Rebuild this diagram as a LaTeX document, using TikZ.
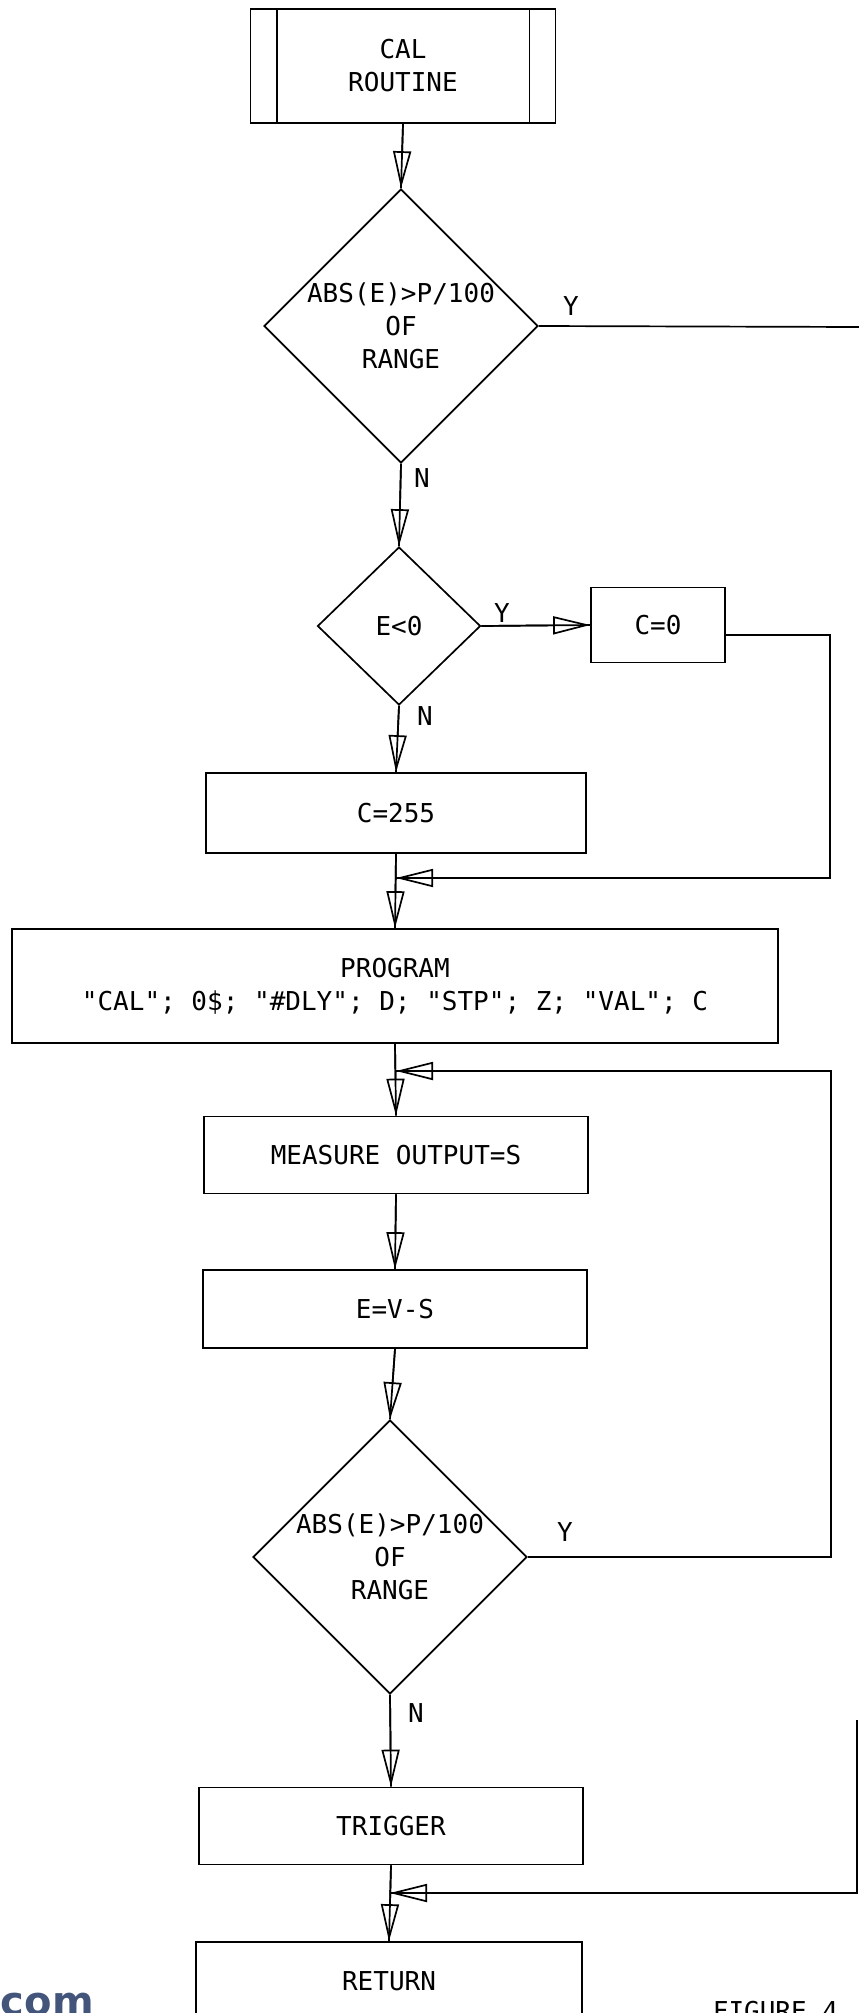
\documentclass[tikz,border=0pt]{standalone}
\usepackage{fontspec}
\usetikzlibrary{shapes.geometric,arrows.meta,positioning}
\newfontfamily\plotter{DejaVu Sans Mono}
\newfontfamily\webfont{DejaVu Sans}
\definecolor{wmark}{HTML}{43557A}
\tikzset{
  box/.style={draw, rectangle, minimum width=384pt, minimum height=77pt, inner sep=0pt, align=center},
  decision/.style={draw, diamond, inner sep=0pt, align=center},
  flow/.style={draw, postaction={draw, -{Triangle[open, length=37pt, width=18pt]}}},
}

\begin{document}
\begin{tikzpicture}[x=1pt, y=-1pt, line width=1.7pt,
  every node/.style={font={\plotter\fontsize{26}{33}\selectfont}}]

  \useasboundingbox[fill=white] (0,0) rectangle (859,2013);

  % entry
  \node[box, minimum width=305pt, minimum height=114pt] (cal) at (403,66) {CAL\\ROUTINE};
  \draw ([xshift=27pt]cal.north west) -- ([xshift=27pt]cal.south west);
  \draw ([xshift=-27pt]cal.north east) -- ([xshift=-27pt]cal.south east);

  % set output to one end
  \node[decision, minimum width=270pt, minimum height=269pt] (rng1) at (401,326) {ABS(E)>P/100\\OF\\RANGE};
  \node[decision, minimum width=163pt, minimum height=158pt] (sign) at (399,626) {E<0};
  \node[box, minimum width=134pt, minimum height=75pt] (czero) at (658,625) {C=0};
  \node[box, minimum width=380pt, minimum height=80pt] (cfull) at (396,813) {C=255};

  % program and measure
  \node[box, minimum width=766pt, minimum height=114pt] (prog) at (395,986)
    {PROGRAM\\"CAL"; 0\$; "\#DLY"; D; "STP"; Z; "VAL"; C};
  \node[box] (meas) at (396,1155) {MEASURE OUTPUT=S};
  \node[box, minimum height=78pt] (diff) at (395,1309) {E=V-S};
  \node[decision, minimum width=271pt, minimum height=270pt] (rng2) at (390,1557) {ABS(E)>P/100\\OF\\RANGE};
  \node[box] (trig) at (391,1826) {TRIGGER};
  \node[box, minimum width=386pt, minimum height=78pt] (ret) at (389,1981) {RETURN};

  % branch labels
  \node (y1) at (571,306) {Y};
  \node (n1) at (422,478) {N};
  \node (y2) at (502,613) {Y};
  \node (n2) at (425,716) {N};
  \node (y3) at (565,1532) {Y};
  \node (n3) at (416,1713) {N};

  % join points and page edge
  \coordinate (join1) at (396,878);
  \coordinate (join2) at (396,1071);
  \coordinate (join3) at (390,1893);
  \coordinate (edge1) at (860,327);
  \coordinate (edge2) at (857,1720);

  % main flow
  \draw[flow] (cal.south) -- (rng1.north);
  \draw[flow] (rng1.south) -- (sign.north);
  \draw[flow] (sign.east) -- (czero.west);
  \draw[flow] (sign.south) -- (cfull.north);
  \draw[flow] (cfull.south) -- (prog.north);
  \draw[flow] (prog.south) -- (meas.north);
  \draw[flow] (meas.south) -- (diff.north);
  \draw[flow] (diff.south) -- (rng2.north);
  \draw[flow] (rng2.south) -- (trig.north);
  \draw[flow] (trig.south) -- (ret.north);

  % loops back
  \draw[flow] ([yshift=-10pt]czero.east) -- ++(104,0) |- (join1);
  \draw[flow] (rng2.east) -- ++(303,0) |- (join2);
  \draw (rng1.east) -- (edge1);
  \draw[flow] (edge2) |- (join3);

  % cut-off page text
  \node[anchor=base west, inner sep=0pt, text=wmark, font={\webfont\bfseries\fontsize{40}{40}\selectfont}] (site) at (0,2015) {com};
  \node[anchor=base west, inner sep=0pt] (fig) at (712,2020) {FIGURE 4};
\end{tikzpicture}
\end{document}
